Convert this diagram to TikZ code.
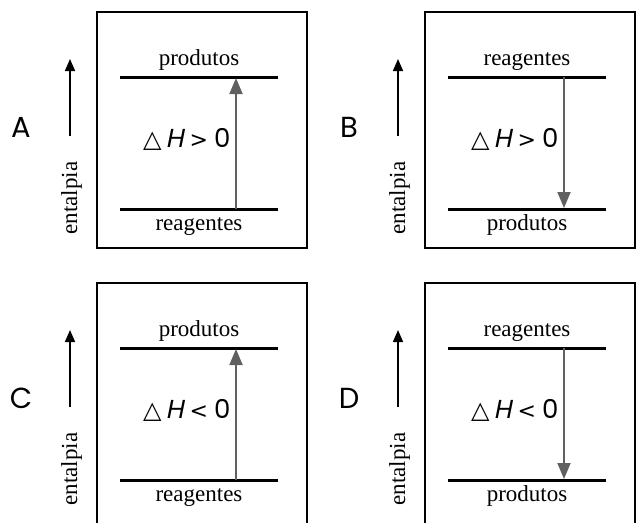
\documentclass[tikz,border=0pt]{standalone}
\usepackage{fontspec}
\setmainfont{Liberation Serif}
\newfontfamily\lettfont{Poppins}
\newfontfamily\slfont[FakeSlant=0.2]{Poppins}
\newfontfamily\symfont{DejaVu Sans}
\usetikzlibrary{arrows.meta}
\definecolor{arrowgray}{HTML}{606060}
\tikzset{
  frame/.style={line width=1.8pt},
  level/.style={line width=3pt},
  dharrow/.style={draw=arrowgray, line width=1.8pt, -{Triangle[length=16pt,width=13pt]}},
  enarrow/.style={draw=black, line width=1.6pt, -{Triangle[length=12pt,width=10pt]}},
  lbl/.style={inner sep=0pt, anchor=base, font=\fontsize{23}{27}\selectfont},
  lett/.style={inner sep=0pt, anchor=base, font=\lettfont\fontsize{29}{33}\selectfont},
  dhs/.style={inner sep=0pt, anchor=base west, font=\lettfont\fontsize{26}{30}\selectfont},
}
% #1 name, #2 dx, #3 dy, #4 letter, #5 top text, #6 bottom text, #7 relation, #8 arrow start y, #9 arrow end y
\newcommand\enpanel[9]{%
  \begin{scope}[shift={(#2,#3)}]
    \node[lett] (#1L) at (21,137) {#4};
    \coordinate (#1e0) at (70,136);
    \coordinate (#1e1) at (70,59);
    \draw[enarrow] (#1e0) -- (#1e1);
    \node[lbl, rotate=90] (#1en) at (77,198) {entalpia};
    \coordinate (#1bl) at (97,248);
    \coordinate (#1br) at (307.3,248);
    \draw[frame] (#1bl) -- (97,12) -- (307.3,12) -- (#1br);
    \coordinate (#1u1) at (120,77);
    \coordinate (#1u2) at (278,77);
    \coordinate (#1d1) at (120,209);
    \coordinate (#1d2) at (278,209);
    \draw[level] (#1u1) -- (#1u2);
    \draw[level] (#1d1) -- (#1d2);
    \node[lbl] (#1top) at (199,65) {#5};
    \node[lbl] (#1bot) at (199,230) {#6};
    \coordinate (#1a0) at (236,#8);
    \coordinate (#1a1) at (236,#9);
    \draw[dharrow] (#1a0) -- (#1a1);
    \node[dhs] (#1dh) at (143,147) {{\symfont\fontsize{24}{28}\selectfont △}\hspace{4pt}{\slfont H}\hspace{6pt}{\symfont\fontsize{22}{26}\selectfont #7}\hspace{6pt}0};
  \end{scope}}
\begin{document}
\begin{tikzpicture}[x=1pt,y=-1pt]
  \useasboundingbox (0,0) rectangle (636,522);
  \clip (0,0) rectangle (636,522);
  \fill[white] (0,0) rectangle (636,522);
  \enpanel{A}{0}{0}{A}{produtos}{reagentes}{>}{209}{78}
  \enpanel{B}{328}{0}{B}{reagentes}{produtos}{>}{77}{208}
  \enpanel{C}{0}{271}{C}{produtos}{reagentes}{<}{209}{78}
  \enpanel{D}{328}{271}{D}{reagentes}{produtos}{<}{77}{208}
  % bottom edges of the upper boxes; the lower boxes run off the page
  \draw[frame] ([xshift=-0.9pt]Abl) -- ([xshift=0.9pt]Abr);
  \draw[frame] ([xshift=-0.9pt]Bbl) -- ([xshift=0.9pt]Bbr);
  \draw[frame] (Cbl) -- ++(0,10);
  \draw[frame] (Cbr) -- ++(0,10);
  \draw[frame] (Dbl) -- ++(0,10);
  \draw[frame] (Dbr) -- ++(0,10);
\end{tikzpicture}
\end{document}
